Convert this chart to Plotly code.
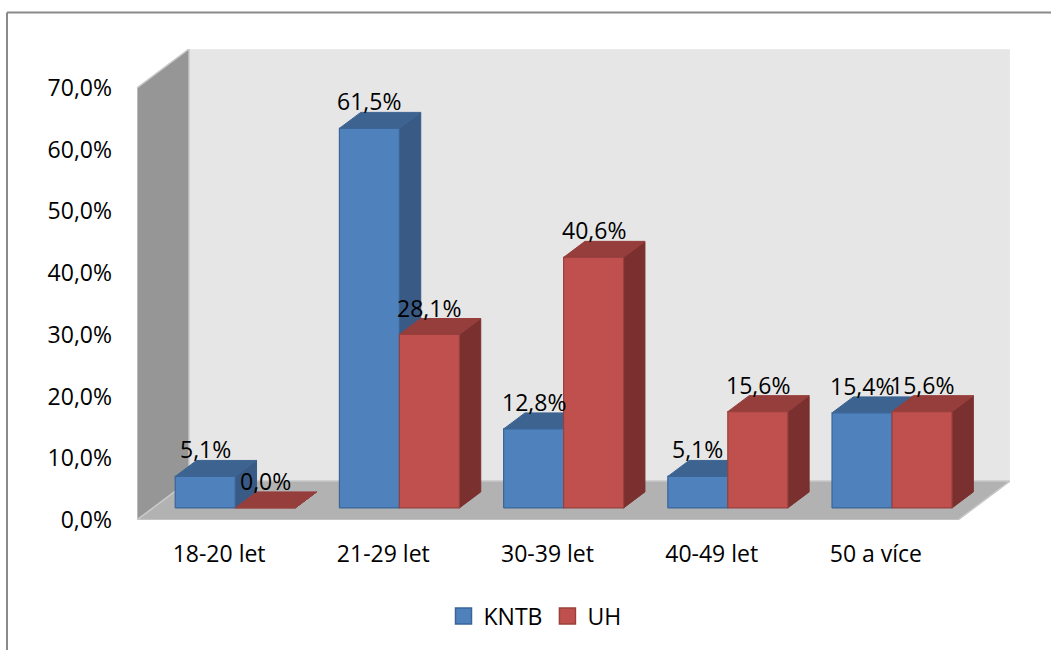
import plotly.graph_objects as go

# ---------------- data ----------------
categories = ["18-20 let", "21-29 let", "30-39 let", "40-49 let", "50 a více"]
kntb = [5.1, 61.5, 12.8, 5.1, 15.4]
uh = [0.0, 28.1, 40.6, 15.6, 15.6]
series_names = ["KNTB", "UH"]
y_ticks = [0, 10, 20, 30, 40, 50, 60, 70]
y_tick_text = [f"{v:.1f}%".replace(".", ",") for v in y_ticks]

# ---------------- style / geometry ----------------
FONT = "Open Sans"
FS = 23
W_PX, H_PX = 1051, 650
L, R, T, B = 137, 41, 49, 130
PX_PER_CAT = 164.2
PLOT_W = W_PX - L - R
PLOT_H = H_PX - T - B
X_MIN = -0.5
X_MAX = X_MIN + PLOT_W / PX_PER_CAT
Y_MAX = 70 / 432 * PLOT_H  # 70 % spans 432 px
DX = 52 / PX_PER_CAT          # floor depth in x units
DY = 39 / (432 / 70)          # floor depth in y units
F1, F2 = 0.31, 0.72           # bar front/back depth fractions
BW = 60 / PX_PER_CAT          # bar width

colors = {
    "KNTB": {"front": "#4f81bd", "top": "#3d6491", "side": "#385a85", "edge": "#3b6596"},
    "UH": {"front": "#c0504d", "top": "#953e3b", "side": "#7a302e", "edge": "#98403d"},
}

fig = go.Figure()


def add_poly(polys, fill, line_color, line_w=1.0):
    xs, ys = [], []
    for p in polys:
        for (a, b) in p:
            xs.append(a)
            ys.append(b)
        xs.append(p[0][0])
        ys.append(p[0][1])
        xs.append(None)
        ys.append(None)
    fig.add_trace(go.Scatter(x=xs, y=ys, mode="lines", fill="toself", fillcolor=fill,
                             line=dict(color=line_color, width=line_w),
                             hoverinfo="skip", showlegend=False))


# walls and floor
x_l, x_r = X_MIN, X_MIN + len(categories)
add_poly([[(x_l + DX, DY), (x_r + DX, DY), (x_r + DX, 70 + DY), (x_l + DX, 70 + DY)]],
         "#e6e6e6", "#ededed", 1)
add_poly([[(x_l, 0), (x_l, 70), (x_l + DX, 70 + DY), (x_l + DX, DY)]],
         "#969696", "#c8c8c8", 1.5)
add_poly([[(x_l, 0), (x_r, 0), (x_r + DX, DY), (x_l + DX, DY)]],
         "#b2b2b2", "#c8c8c8", 1.5)

# bars
ddx = (F2 - F1) * DX
ddy = (F2 - F1) * DY
for s_idx, (name, vals) in enumerate(zip(series_names, [kntb, uh])):
    c = colors[name]
    fronts, tops, sides = [], [], []
    for i, v in enumerate(vals):
        x0 = i + F1 * DX - BW + s_idx * BW
        x1 = x0 + BW
        yb = F1 * DY
        yt = yb + v
        fronts.append([(x0, yb), (x1, yb), (x1, yt), (x0, yt)])
        tops.append([(x0, yt), (x1, yt), (x1 + ddx, yt + ddy), (x0 + ddx, yt + ddy)])
        sides.append([(x1, yb), (x1 + ddx, yb + ddy), (x1 + ddx, yt + ddy), (x1, yt)])
    add_poly(sides, c["side"], c["side"], 1)
    add_poly(tops, c["top"], c["top"], 1)
    add_poly(fronts, c["front"], c["edge"], 1.2)

# data labels
for s_idx, vals in enumerate([kntb, uh]):
    for i, v in enumerate(vals):
        xc = i + F1 * DX - BW / 2 + s_idx * BW
        fig.add_annotation(x=xc, y=F2 * DY + v, text=f"{v:.1f}%".replace(".", ","),
                           showarrow=False, yanchor="middle", xanchor="center", yshift=11,
                           font=dict(family=FONT, size=FS, color="#000000"))

# legend entries
for name in series_names:
    fig.add_trace(go.Scatter(x=[None], y=[None], mode="markers", name=name,
                             marker=dict(symbol="square", size=16, color=colors[name]["front"],
                                         line=dict(color=colors[name]["edge"], width=1.5))))

# outer chart border (top + left)
bx = (7 - L) / PLOT_W
by_top = (PLOT_H + T - 12.5) / PLOT_H
fig.add_shape(type="line", xref="paper", yref="paper", x0=bx, x1=1.2, y0=by_top, y1=by_top,
              line=dict(color="#8a8a8a", width=2))
fig.add_shape(type="line", xref="paper", yref="paper", x0=bx, x1=bx, y0=by_top, y1=-0.5,
              line=dict(color="#8a8a8a", width=2))

fig.update_layout(
    width=W_PX, height=H_PX, autosize=False,
    margin=dict(l=L, r=R, t=T, b=B, pad=0),
    paper_bgcolor="white", plot_bgcolor="white",
    font=dict(family=FONT, size=FS, color="#000000"),
    showlegend=True,
    legend=dict(orientation="h", x=(535 - L) / PLOT_W, xanchor="center",
                y=(PLOT_H + T - 616) / PLOT_H, yanchor="middle",
                font=dict(family=FONT, size=FS), bgcolor="rgba(0,0,0,0)",
                itemwidth=30, tracegroupgap=0),
    xaxis=dict(range=[X_MIN, X_MAX], tickvals=list(range(len(categories))), ticktext=categories,
               showgrid=False, zeroline=False, showline=False, ticks="",
               ticklabelstandoff=18, fixedrange=True),
    yaxis=dict(range=[0, Y_MAX], tickvals=y_ticks, ticktext=y_tick_text,
               showgrid=False, zeroline=False, showline=False, ticks="",
               ticklabelstandoff=24, fixedrange=True),
)

fig.write_html("out.html")
